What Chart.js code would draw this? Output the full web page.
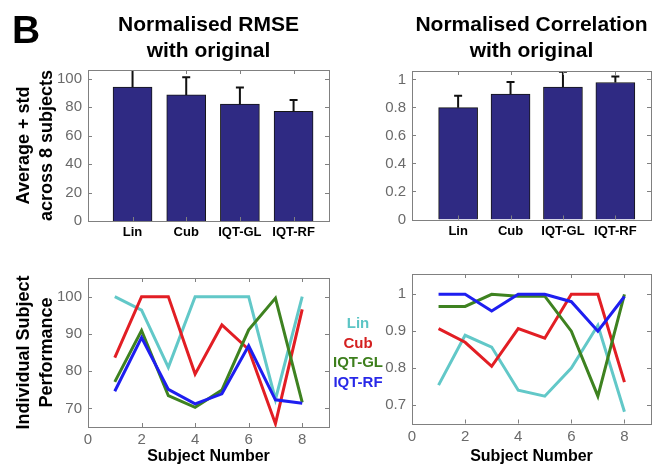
<!DOCTYPE html>
<html lang="en">
<head>
<meta charset="UTF-8">
<title>Normalised RMSE and Correlation</title>
<script src="https://cdn.jsdelivr.net/npm/chart.js"></script>
<style>
  body { margin: 0; background: #fff; font-family: 'Liberation Sans', Arial, sans-serif; }
  #wrap { position: relative; width: 657px; height: 468px; overflow: hidden; }
  #wrap canvas { position: absolute; }
  #letter { position: absolute; left: 12px; top: 10px; font-size: 39px; line-height: 39px; font-weight: bold; color: #000; }
  #legend { position: absolute; left: 318px; top: 313px; width: 80px; text-align: center; font-size: 15px; line-height: 19.5px; font-weight: bold; }
</style>
</head>
<body>
<div id="wrap">
  <canvas id="rmseChart" width="335" height="245" style="left:0;top:0"></canvas>
  <canvas id="corrChart" width="317" height="245" style="left:340px;top:0"></canvas>
  <canvas id="rmseSubjChart" width="335" height="218" style="left:0;top:250px"></canvas>
  <canvas id="corrSubjChart" width="317" height="218" style="left:340px;top:250px"></canvas>
  <div id="letter">B</div>
  <div id="legend"></div>
</div>

<script>
  // methods compared
  const methods = ['Lin', 'Cub', 'IQT-GL', 'IQT-RF'];

  // top row: average + std across 8 subjects
  const rmseMean = [94, 88.5, 82, 77];
  const rmseStd = [12.5, 12.4, 11.8, 8];
  const rmseTicks = [0, 20, 40, 60, 80, 100];

  const corrMean = [0.798, 0.895, 0.945, 0.978];
  const corrStd = [0.085, 0.087, 0.11, 0.042];
  const corrTicks = [0, 0.2, 0.4, 0.6, 0.8, 1];

  // bottom row: individual subject performance
  const subjects = [1, 2, 3, 4, 5, 6, 7, 8];
  const subjectTicks = [0, 2, 4, 6, 8];

  const rmseLin = [100, 96.4, 81, 100, 100, 100, 72.4, 100];
  const rmseCub = [83.6, 100, 100, 79.2, 92.4, 85.8, 65.9, 96.6];
  const rmseGL = [77.1, 90.9, 73.4, 70.3, 74.9, 91.1, 99.6, 71.6];
  const rmseRF = [74.6, 89, 75.1, 71.2, 73.9, 86.8, 72.3, 71.4];
  const rmseSubjTicks = [70, 80, 90, 100];

  const corrLin = [0.754, 0.889, 0.857, 0.740, 0.724, 0.80, 0.916, 0.682];
  const corrCub = [0.907, 0.870, 0.805, 0.907, 0.881, 1.0, 1.0, 0.762];
  const corrGL = [0.967, 0.967, 1.0, 0.995, 0.995, 0.90, 0.724, 1.0];
  const corrRF = [1.0, 1.0, 0.955, 1.0, 1.0, 0.98, 0.90, 0.994];
  const corrSubjTicks = [0.7, 0.8, 0.9, 1];

  const lineColours = ['rgb(98,200,200)', 'rgb(226,30,36)', 'rgb(62,130,32)', 'rgb(30,30,240)'];
  const legendColours = ['#5cc5c5', '#d42020', '#3d7f1c', '#2828e8'];

  Chart.defaults.font.family = "'Liberation Sans', Arial, sans-serif";
  Chart.defaults.animation = false;
  Chart.defaults.plugins.legend.display = false;
  Chart.defaults.plugins.tooltip.enabled = false;

  const frameColour = '#808080';
  const tickColour = '#6a6a6a';

  // std whiskers above each bar (only upward, like the figure)
  const errorBars = {
    id: 'errorBars',
    afterDatasetsDraw(chart) {
      const ds = chart.data.datasets[0];
      if (!ds.errors) return;
      const { ctx, chartArea } = chart;
      const yScale = chart.scales.y;
      const meta = chart.getDatasetMeta(0);
      ctx.save();
      ctx.beginPath();
      ctx.rect(chartArea.left, chartArea.top, chartArea.width, chartArea.height);
      ctx.clip();
      ctx.strokeStyle = '#111';
      ctx.lineWidth = 2;
      meta.data.forEach((bar, i) => {
        const top = yScale.getPixelForValue(ds.data[i].y + ds.errors[i]);
        ctx.beginPath();
        ctx.moveTo(bar.x, bar.y);
        ctx.lineTo(bar.x, top);
        ctx.moveTo(bar.x - 4, top);
        ctx.lineTo(bar.x + 4, top);
        ctx.stroke();
      });
      ctx.restore();
    }
  };

  // box frame with inward tick marks
  const boxAxes = {
    id: 'boxAxes',
    afterDatasetsDraw(chart) {
      const { ctx, chartArea: a } = chart;
      const xs = chart.scales.x, ys = chart.scales.y;
      ctx.save();
      ctx.strokeStyle = frameColour;
      ctx.lineWidth = 1;
      ctx.strokeRect(Math.round(a.left) + 0.5, Math.round(a.top) + 0.5,
        Math.round(a.width), Math.round(a.height));
      ctx.beginPath();
      xs.ticks.forEach(t => {
        const px = Math.round(xs.getPixelForValue(t.value)) + 0.5;
        if (px <= a.left + 2 || px >= a.right - 2) return;
        ctx.moveTo(px, a.bottom); ctx.lineTo(px, a.bottom - 4);
        ctx.moveTo(px, a.top); ctx.lineTo(px, a.top + 4);
      });
      ys.ticks.forEach(t => {
        const py = Math.round(ys.getPixelForValue(t.value)) + 0.5;
        if (py <= a.top + 2 || py >= a.bottom - 2) return;
        ctx.moveTo(a.left, py); ctx.lineTo(a.left + 4, py);
        ctx.moveTo(a.right, py); ctx.lineTo(a.right - 4, py);
      });
      ctx.stroke();
      ctx.restore();
    }
  };

  function tickList(values) {
    return scale => { scale.ticks = values.map(v => ({ value: v })); };
  }

  function yTitle(lines) {
    return {
      display: !!lines,
      text: lines || '',
      color: '#000',
      font: { size: 18, weight: 'bold', lineHeight: 1.28 },
      padding: { top: 12.5, bottom: 0 }
    };
  }

  const noGrid = { display: false, drawTicks: false };

  function barChart(id, means, stds, yTicks, xMin, xMax, yMax, titleLines, yLines, yWidth, xHeight, titleBottom) {
    new Chart(document.getElementById(id), {
      type: 'bar',
      data: {
        datasets: [{
          data: means.map((m, i) => ({ x: i + 1, y: m })),
          errors: stds,
          backgroundColor: '#2f2a83',
          borderColor: '#151515',
          borderWidth: 1,
          barThickness: 39
        }]
      },
      options: {
        responsive: false,
        layout: { padding: { left: 0, right: 6, top: 0, bottom: 0 } },
        plugins: {
          title: {
            display: true,
            text: titleLines,
            color: '#000',
            fullSize: false,
            font: { size: 21, weight: 'bold', lineHeight: 1.25 },
            padding: { top: 12, bottom: titleBottom }
          }
        },
        scales: {
          x: {
            type: 'linear',
            offset: false,
            min: xMin,
            max: xMax,
            afterBuildTicks: tickList(methods.map((m, i) => i + 1)),
            afterFit: s => { s.height = xHeight; },
            grid: noGrid,
            border: { display: false },
            ticks: {
              color: '#000',
              font: { size: 13, weight: 'bold' },
              padding: 4,
              maxRotation: 0,
              autoSkip: false,
              callback: v => methods[v - 1]
            }
          },
          y: {
            min: 0,
            max: yMax,
            afterBuildTicks: tickList(yTicks),
            afterFit: s => { s.width = yWidth; },
            grid: noGrid,
            border: { display: false },
            ticks: { color: tickColour, font: { size: 15 }, padding: 6, callback: v => String(v) },
            title: yTitle(yLines)
          }
        }
      },
      plugins: [errorBars, boxAxes]
    });
  }

  function lineChart(id, series, yTicks, yMin, yMax, yLines, yWidth, xHeight, topPad) {
    new Chart(document.getElementById(id), {
      type: 'line',
      data: {
        datasets: series.map((vals, k) => ({
          label: methods[k],
          data: subjects.map((s, i) => ({ x: s, y: vals[i] })),
          borderColor: lineColours[k],
          borderWidth: 3,
          pointRadius: 0,
          fill: false,
          tension: 0,
          order: series.length - k
        }))
      },
      options: {
        responsive: false,
        layout: { padding: { left: 0, right: 6, top: topPad, bottom: 0 } },
        scales: {
          x: {
            type: 'linear',
            min: 0,
            max: 9,
            afterBuildTicks: tickList(subjectTicks),
            afterFit: s => { s.height = xHeight; },
            grid: noGrid,
            border: { display: false },
            ticks: { color: tickColour, font: { size: 15 }, padding: 4, maxRotation: 0, autoSkip: false },
            title: {
              display: true,
              text: 'Subject Number',
              color: '#000',
              font: { size: 16, weight: 'bold' },
              padding: { top: 0, bottom: 2 }
            }
          },
          y: {
            min: yMin,
            max: yMax,
            afterBuildTicks: tickList(yTicks),
            afterFit: s => { s.width = yWidth; },
            grid: noGrid,
            border: { display: false },
            ticks: { color: tickColour, font: { size: 15 }, padding: 6, callback: v => String(v) },
            title: yTitle(yLines)
          }
        }
      },
      plugins: [boxAxes]
    });
  }

  barChart('rmseChart', rmseMean, rmseStd, rmseTicks, 0.17, 4.66, 106,
    ['Normalised RMSE', 'with original'], ['Average + std', 'across 8 subjects'], 88, 24, 5.5);
  barChart('corrChart', corrMean, corrStd, corrTicks, 0.12, 4.68, 1.06,
    ['Normalised Correlation', 'with original'], null, 72, 25.5, 6.5);

  lineChart('rmseSubjChart', [rmseLin, rmseCub, rmseGL, rmseRF], rmseSubjTicks, 65, 105,
    ['Individual Subject', 'Performance'], 88, 41, 28);
  lineChart('corrSubjChart', [corrLin, corrCub, corrGL, corrRF], corrSubjTicks, 0.65, 1.055,
    null, 72, 44.5, 24);

  // coloured text legend between the two bottom panels
  const legend = document.getElementById('legend');
  methods.forEach((m, k) => {
    const d = document.createElement('div');
    d.textContent = m;
    d.style.color = legendColours[k];
    legend.appendChild(d);
  });
</script>
</body>
</html>
